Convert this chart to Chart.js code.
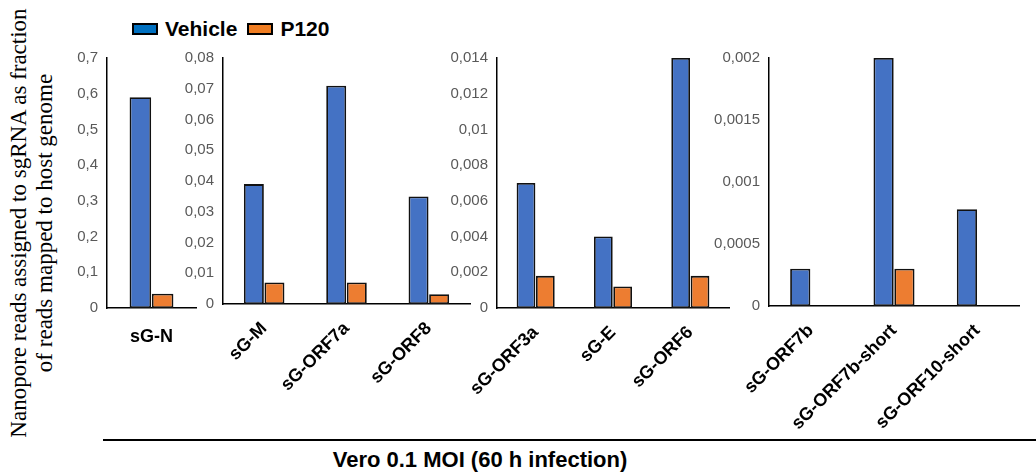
<!DOCTYPE html>
<html>
<head>
<meta charset="utf-8">
<script src="https://cdn.jsdelivr.net/npm/chart.js@4.4.1/dist/chart.umd.min.js"></script>
<style>
  body{margin:0;background:#fff;width:1036px;height:473px;position:relative;overflow:hidden;font-family:"Liberation Sans",Arial,sans-serif;}
  .pane{position:absolute;}
  #ytitle{position:absolute;left:32px;top:223px;width:460px;transform:translate(-50%,-50%) rotate(-90deg);
    font-family:"Liberation Serif","Times New Roman",serif;font-size:23px;line-height:26px;text-align:center;color:#000;}
  #legend{position:absolute;left:132px;top:17px;font-weight:bold;font-size:21px;display:flex;align-items:center;}
  .sw{display:inline-block;width:22px;height:8px;border:2px solid #000;margin-right:7px;}
  #baseline{position:absolute;left:103px;top:439px;width:933px;height:2px;background:#000;}
  #caption{position:absolute;left:480px;top:447px;transform:translateX(-50%);white-space:nowrap;
    font-family:"Liberation Sans Narrow","Liberation Sans",Arial,sans-serif;font-weight:bold;font-size:22px;}
</style>
</head>
<body>
<div id="ytitle">Nanopore reads assigned to sgRNA as fraction<br>of reads mapped to host genome</div>
<div id="legend">
  <span class="sw" style="background:#0070C0"></span><span style="margin-right:10px">Vehicle</span>
  <span class="sw" style="background:#F07D22"></span><span>P120</span>
</div>
<div class="pane" style="left:60px;top:40px"><canvas id="c1" width="150" height="390"></canvas></div>
<div class="pane" style="left:160px;top:40px"><canvas id="c2" width="330" height="390"></canvas></div>
<div class="pane" style="left:430px;top:40px"><canvas id="c3" width="320" height="390"></canvas></div>
<div class="pane" style="left:700px;top:40px"><canvas id="c4" width="336" height="390"></canvas></div>
<div id="baseline"></div>
<div id="caption">Vero 0.1 MOI (60 h infection)</div>
<script>
// ----- data -----
const cats1 = ['sG-N'];
const veh1  = [0.59];
const p1201 = [0.04];

const cats2 = ['sG-M', 'sG-ORF7a', 'sG-ORF8'];
const veh2  = [0.039, 0.071, 0.035];
const p1202 = [0.007, 0.007, 0.0032];

const cats3 = ['sG-ORF3a', 'sG-E', 'sG-ORF6'];
const veh3  = [0.007, 0.004, 0.014];
const p1203 = [0.0018, 0.0012, 0.0018];

const cats4 = ['sG-ORF7b', 'sG-ORF7b-short', 'sG-ORF10-short'];
const veh4  = [0.0003, 0.002, 0.00078];
const p1204 = [0, 0.0003, 0];

// y axis ranges per panel
const yMax  = [0.7, 0.08, 0.014, 0.002];
const yStep = [0.1, 0.01, 0.002, 0.0005];

const BLUE = '#4472C4', ORANGE = '#ED7D31';
const comma = v => String(+v.toFixed(6)).replace('.', ',');

// box = [yAxisWidth, padTop, padRight, xAxisHeight]
function panel(id, cats, veh, p120, i, box, rot){
  const [yw, pt, pr, xh] = box;
  new Chart(document.getElementById(id), {
    type: 'bar',
    data: {labels: cats, datasets: [
      {label:'Vehicle', data: veh,  backgroundColor: BLUE},
      {label:'P120',    data: p120, backgroundColor: ORANGE},
    ]},
    options: {
      responsive: false, animation: false,
      layout: {autoPadding: false, padding: {top: pt, right: pr, left: 0, bottom: 0}},
      plugins: {legend: {display: false}, tooltip: {enabled: false}},
      datasets: {bar: {borderColor: '#111', borderWidth: 1.8, borderSkipped: false,
        categoryPercentage: 0.5, barPercentage: 0.97}},
      scales: {
        x: {
          grid: {display: false}, border: {display: true, color: '#000', width: 1.5},
          ticks: {color: '#000', font: {family: 'Liberation Sans', size: 18, weight: 'bold'},
            maxRotation: rot, minRotation: rot, padding: rot ? 6 : 10, autoSkip: false},
          afterFit: s => { s.height = xh; }
        },
        y: {
          min: 0, max: yMax[i],
          grid: {display: false, drawTicks: false}, border: {display: true, color: '#000', width: 1.5},
          ticks: {stepSize: yStep[i], color: '#595959', padding: 9,
            font: {family: 'Liberation Sans', size: 15}, callback: v => comma(v)},
          afterFit: s => { s.width = yw; }
        }
      }
    }
  });
}

panel('c1', cats1, veh1, p1201, 0, [47, 12, 14, 122], 0);
panel('c2', cats2, veh2, p1202, 1, [63, 13, 20, 126], 45);
panel('c3', cats3, veh3, p1203, 2, [67, 13, 21, 122], 45);
panel('c4', cats4, veh4, p1204, 3, [69, 13, 17, 124], 45);
</script>
</body>
</html>
